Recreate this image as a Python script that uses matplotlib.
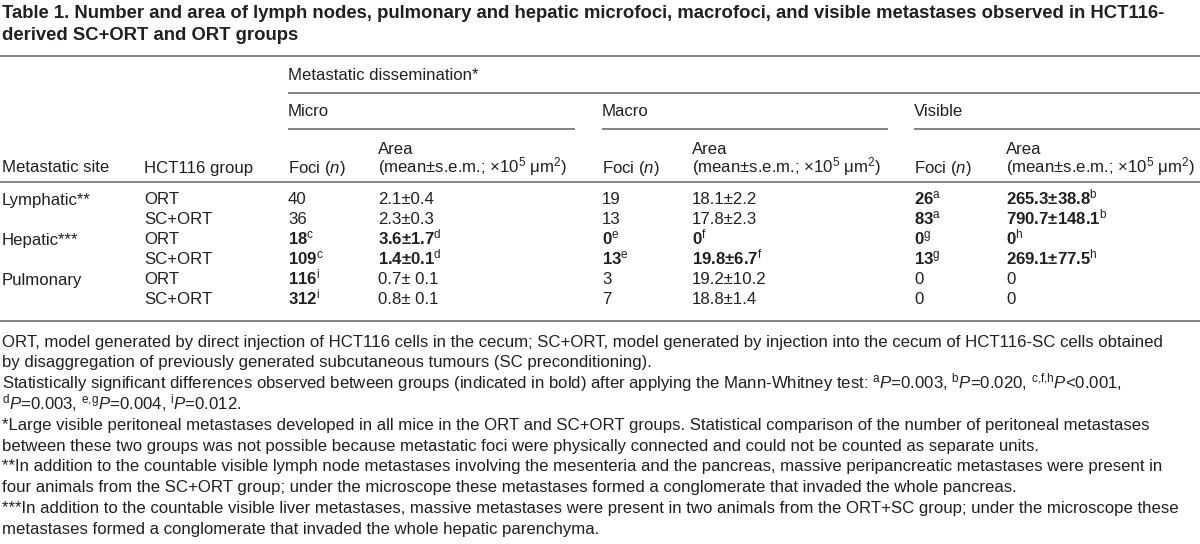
import matplotlib
matplotlib.use("Agg")
import matplotlib.pyplot as plt

plt.rcParams['font.family'] = ['Liberation Sans', 'DejaVu Sans']
plt.rcParams['mathtext.fontset'] = 'custom'
plt.rcParams['mathtext.rm'] = 'Liberation Sans'
plt.rcParams['mathtext.it'] = 'Liberation Sans:italic'
plt.rcParams['mathtext.bf'] = 'Liberation Sans:bold'

# table content
title_lines = ["Table 1. Number and area of lymph nodes, pulmonary and hepatic microfoci, macrofoci, and visible metastases observed in HCT116-",
               "derived SC+ORT and ORT groups"]
sites = ['Lymphatic**', '', 'Hepatic***', '', 'Pulmonary', '']
groups = ['ORT', 'SC+ORT', 'ORT', 'SC+ORT', 'ORT', 'SC+ORT']
micro_foci = ['40', '36', '18', '109', '116', '312']
micro_foci_sup = ['', '', 'c', 'c', 'i', 'i']
micro_area = ['2.1±0.4', '2.3±0.3', '3.6±1.7', '1.4±0.1', '0.7± 0.1', '0.8± 0.1']
micro_area_sup = ['', '', 'd', 'd', '', '']
macro_foci = ['19', '13', '0', '13', '3', '7']
macro_foci_sup = ['', '', 'e', 'e', '', '']
macro_area = ['18.1±2.2', '17.8±2.3', '0', '19.8±6.7', '19.2±10.2', '18.8±1.4']
macro_area_sup = ['', '', 'f', 'f', '', '']
vis_foci = ['26', '83', '0', '13', '0', '0']
vis_foci_sup = ['a', 'a', 'g', 'g', '', '']
vis_area = ['265.3±38.8', '790.7±148.1', '0', '269.1±77.5', '0', '0']
vis_area_sup = ['b', 'b', 'h', 'h', '', '']

footnotes = [
    "ORT, model generated by direct injection of HCT116 cells in the cecum; SC+ORT, model generated by injection into the cecum of HCT116-SC cells obtained",
    "by disaggregation of previously generated subcutaneous tumours (SC preconditioning).",
    r"Statistically significant differences observed between groups (indicated in bold) after applying the Mann-Whitney test: $^{\rm a}P$=0.003, $^{\rm b}P$=0.020, $^{\rm c{,}f{,}h}P$<0.001,",
    r"$^{\rm d}P$=0.003, $^{\rm e{,}g}P$=0.004, $^{\rm i}P$=0.012.",
    "*Large visible peritoneal metastases developed in all mice in the ORT and SC+ORT groups. Statistical comparison of the number of peritoneal metastases",
    "between these two groups was not possible because metastatic foci were physically connected and could not be counted as separate units.",
    "**In addition to the countable visible lymph node metastases involving the mesenteria and the pancreas, massive peripancreatic metastases were present in",
    "four animals from the SC+ORT group; under the microscope these metastases formed a conglomerate that invaded the whole pancreas.",
    "***In addition to the countable visible liver metastases, massive metastases were present in two animals from the ORT+SC group; under the microscope these",
    "metastases formed a conglomerate that invaded the whole hepatic parenchyma.",
]

TXT = '#231f20'
RULE = '#7a7a7a'
FS = 12.1

fig = plt.figure(figsize=(12, 5.44), dpi=100)
ax = fig.add_axes([0, 0, 1, 1])
ax.set_xlim(0, 1200)
ax.set_ylim(544, 0)
ax.axis('off')


def put(x, y, s, bold=False, size=FS):
    ax.text(x, y + 5.5, s, fontsize=size, color=TXT, va='baseline', ha='left',
            fontweight='bold' if bold else 'normal')


def rule(x0, x1, y):
    ax.plot([x0, x1], [y, y], color=RULE, lw=1.3, solid_capstyle='butt')


def cell(val, sup):
    # bold value with a plain superscript letter
    if sup:
        return val + r'$^{\rm ' + sup + '}$', True
    return val, False


# title
put(2, 12, title_lines[0], bold=True, size=13.3)
put(2, 35, title_lines[1], bold=True, size=13.3)

# header
col_x = [2, 144, 288, 378, 602, 692, 914, 1006]
rule(0, 1200, 56)
put(288, 75, "Metastatic dissemination*")
rule(288, 1200, 93)
put(288, 111, "Micro")
put(602, 111, "Macro")
put(914, 111, "Visible")
rule(288, 575, 129)
rule(602, 888, 129)
rule(914, 1200, 129)
area_hdr = r"(mean±s.e.m.; ×10$^5$ μm$^2$)"
for xf, xa in [(col_x[2], col_x[3]), (col_x[4], col_x[5]), (col_x[6], col_x[7])]:
    put(xf, 167, r"Foci ($n$)")
    put(xa, 148, "Area")
    put(xa, 167, area_hdr)
put(col_x[0], 167, "Metastatic site")
put(col_x[1], 167, "HCT116 group")
rule(0, 1200, 182)

# body
cols = [(micro_foci, micro_foci_sup), (micro_area, micro_area_sup),
        (macro_foci, macro_foci_sup), (macro_area, macro_area_sup),
        (vis_foci, vis_foci_sup), (vis_area, vis_area_sup)]
for i in range(len(groups)):
    y = 199 + 20 * i
    put(col_x[0], y, sites[i])
    put(col_x[1], y, groups[i])
    for j, (vals, sups) in enumerate(cols):
        s, b = cell(vals[i], sups[i])
        put(col_x[j + 2], y, s, bold=b)
rule(0, 1200, 321)

# footnotes
for k, line in enumerate(footnotes):
    put(2, 341 + 20.8 * k, line)

fig.savefig('out.png', dpi=100, facecolor='white')
